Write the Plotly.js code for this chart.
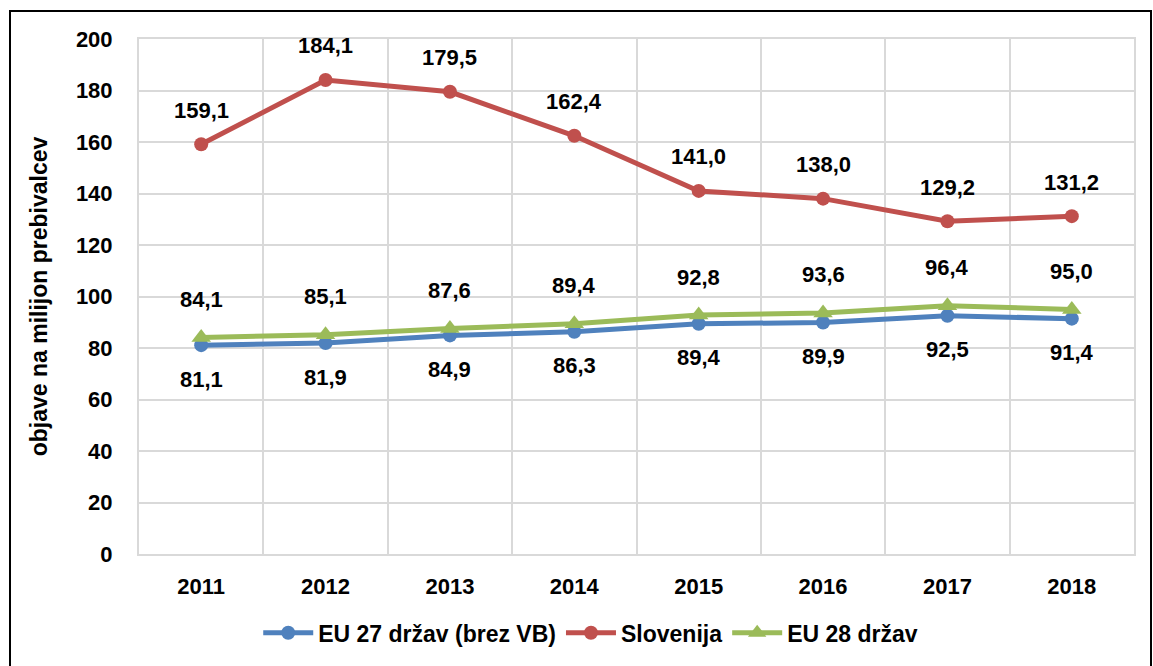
<!DOCTYPE html>
<html>
<head>
<meta charset="utf-8">
<script src="https://cdn.plot.ly/plotly-3.0.1.min.js"></script>
<style>
html,body{margin:0;padding:0;background:#fff;}
#wrap{position:relative;width:1153px;height:666px;overflow:hidden;}
#chart{position:absolute;left:0;top:0;width:1153px;height:666px;}
#frame{position:absolute;left:9px;top:10px;width:1143px;height:700px;border:2px solid #000;box-sizing:border-box;pointer-events:none;}
</style>
</head>
<body>
<div id="wrap"><div id="chart"></div><div id="frame"></div></div>
<script>
const years = ['2011','2012','2013','2014','2015','2016','2017','2018'];
const eu27 = [81.1, 81.9, 84.9, 86.3, 89.4, 89.9, 92.5, 91.4];
const slovenia = [159.1, 184.1, 179.5, 162.4, 141.0, 138.0, 129.2, 131.2];
const eu28 = [84.1, 85.1, 87.6, 89.4, 92.8, 93.6, 96.4, 95.0];
const seriesNames = ['EU 27 držav (brez VB)', 'Slovenija', 'EU 28 držav'];
const yTicks = [0, 20, 40, 60, 80, 100, 120, 140, 160, 180, 200];

const xIdx = years.map((_, i) => i);
const font = 'Liberation Sans, Arial, sans-serif';
const fmt = v => v.toFixed(1).replace('.', ',');

const blue = '#4F81BD', red = '#C0504D', green = '#9BBB59';

const traces = [
  {x: xIdx, y: eu27, name: seriesNames[0], mode: 'lines+markers',
   line: {color: blue, width: 5}, marker: {symbol: 'circle', size: 14, color: blue}},
  {x: xIdx, y: slovenia, name: seriesNames[1], mode: 'lines+markers',
   line: {color: red, width: 5}, marker: {symbol: 'circle', size: 14, color: red}},
  {x: xIdx, y: eu28, name: seriesNames[2], mode: 'lines+markers',
   line: {color: green, width: 5}, marker: {symbol: 'triangle-up', size: 17, color: green}}
];

const annotations = [];
function addLabels(vals, shift) {
  vals.forEach((v, i) => {
    annotations.push({x: i, y: v, xref: 'x', yref: 'y', text: fmt(v), showarrow: false,
      yshift: shift, font: {family: font, size: 22, color: '#000', weight: 'bold'}});
  });
}
addLabels(slovenia, 34);
addLabels(eu28, 38);
addLabels(eu27, -34);

const minorVals = [];
for (let i = 0; i <= years.length; i++) minorVals.push(i - 0.5);

const layout = {
  width: 1153, height: 666,
  margin: {l: 139, r: 19, t: 39, b: 110},
  paper_bgcolor: 'rgba(0,0,0,0)', plot_bgcolor: '#fff',
  showlegend: true,
  legend: {orientation: 'h', x: 0.454, xanchor: 'center', y: -0.153, yanchor: 'middle',
    font: {family: font, size: 23, color: '#000', weight: 'bold'}, itemwidth: 50},
  xaxis: {range: [-0.5, years.length - 0.5], tickmode: 'array', tickvals: xIdx, ticktext: years,
    automargin: false,
    showgrid: false, zeroline: false, showline: true, mirror: true, linecolor: '#d9d9d9', linewidth: 2,
    ticks: '', ticklabelstandoff: 12, tickangle: 0,
    tickfont: {family: font, size: 22, color: '#000', weight: 'bold'},
    minor: {tickvals: minorVals, showgrid: true, gridcolor: '#d9d9d9', gridwidth: 2, ticks: ''}},
  yaxis: {range: [0, 200], tickmode: 'array', tickvals: yTicks, automargin: false,
    showgrid: true, gridcolor: '#d9d9d9', gridwidth: 2, zeroline: false,
    showline: true, mirror: true, linecolor: '#d9d9d9', linewidth: 2, ticks: '', ticklabelstandoff: 20,
    tickfont: {family: font, size: 22, color: '#000', weight: 'bold'},
    title: {text: 'objave na milijon prebivalcev', standoff: 22,
      font: {family: font, size: 23, color: '#000', weight: 'bold'}}},
  annotations: annotations
};

Plotly.newPlot('chart', traces, layout, {displayModeBar: false, staticPlot: true});
</script>
</body>
</html>
